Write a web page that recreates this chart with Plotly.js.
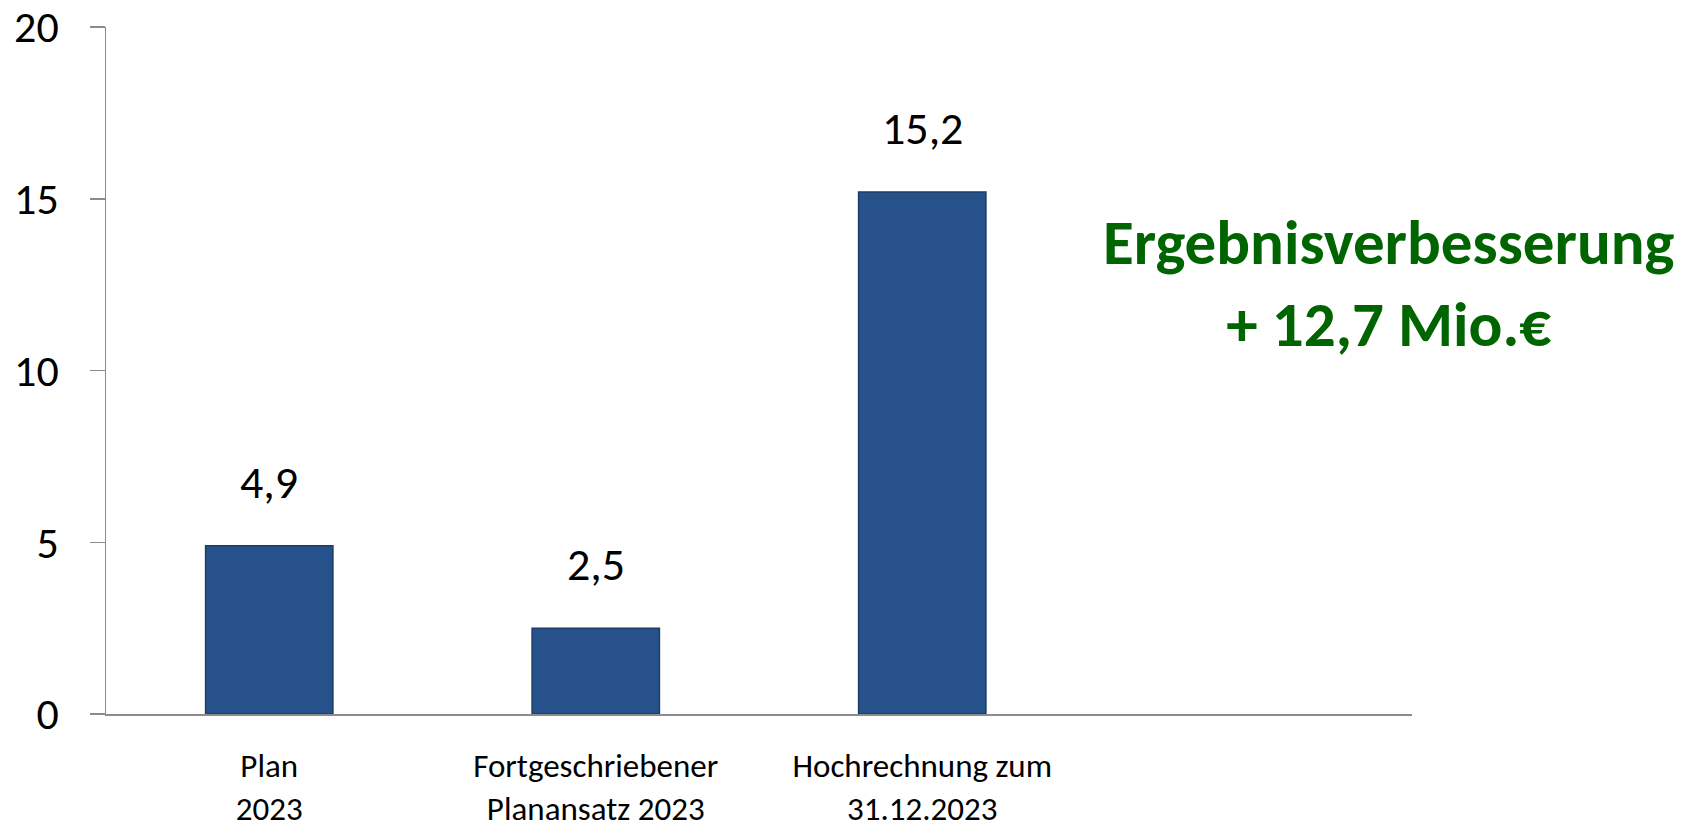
<!DOCTYPE html>
<html><head><meta charset="utf-8">
<script src="https://cdn.plot.ly/plotly-3.0.1.min.js"></script>
<style>html,body{margin:0;padding:0;background:#fff}#c{width:1696px;height:829px}</style>
</head><body><div id="c"></div>
<script>
const categories = ["Plan<br>2023", "Fortgeschriebener<br>Planansatz 2023", "Hochrechnung zum<br>31.12.2023", " "];
const values = [4.9, 2.5, 15.2, null];
const valueLabels = ["4,9", "2,5", "15,2"];
const yTicks = [0, 5, 10, 15, 20];
const noteText = "Ergebnisverbesserung<br>+ 12,7 Mio.€";

const font = "Carlito, Lato, 'Open Sans', sans-serif";

const annotations = valueLabels.map((t, i) => ({
  x: categories[i], y: values[i], xref: 'x', yref: 'y',
  text: t, showarrow: false, yanchor: 'bottom', yshift: 34,
  font: {family: font, size: 46, color: '#000'}
}));
annotations.push({
  x: 0.982, y: 0.626, xref: 'paper', yref: 'paper', text: noteText,
  showarrow: false, align: 'center', xanchor: 'center', yanchor: 'middle',
  font: {family: font, size: 63, color: '#006400', weight: 'bold'}
});

Plotly.newPlot('c', [{
  type: 'bar', x: categories, y: values,
  marker: {color: '#27518A', line: {color: '#1C3D6A', width: 1.5}},
  width: 0.39, hoverinfo: 'none'
}], {
  width: 1696, height: 829,
  margin: {l: 106, r: 284, t: 27, b: 115},
  paper_bgcolor: '#fff', plot_bgcolor: '#fff',
  showlegend: false,
  separators: ',.',
  xaxis: {
    type: 'category', range: [-0.5, 3.5], showline: true, linecolor: '#8C8C8C', linewidth: 1.5,
    ticks: '', showgrid: false, zeroline: false, fixedrange: true,
    tickfont: {family: font, size: 33, color: '#000'}, ticklabelstandoff: 22
  },
  yaxis: {
    range: [0, 20], tickvals: yTicks, showline: true, linecolor: '#8C8C8C', linewidth: 1.5,
    ticks: 'outside', ticklen: 15, tickcolor: '#8C8C8C', tickwidth: 1.5,
    showgrid: false, zeroline: false,
    tickfont: {family: font, size: 44, color: '#000'}, ticklabelstandoff: 22
  },
  annotations: annotations
}, {staticPlot: true});
</script></body></html>
